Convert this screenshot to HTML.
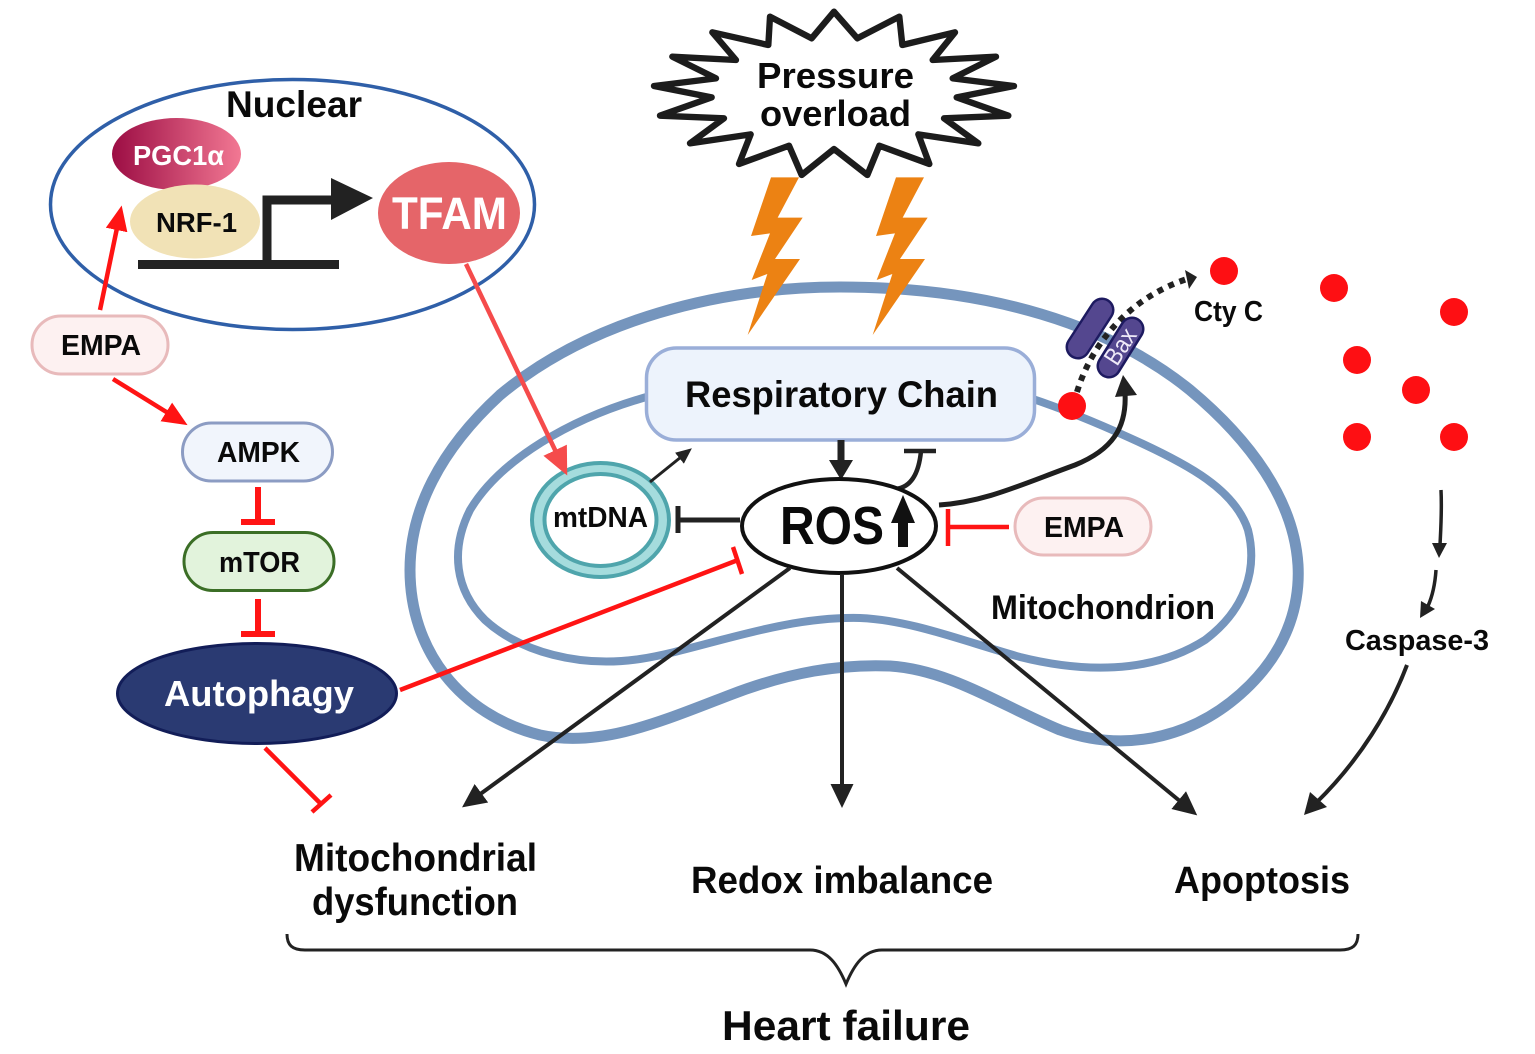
<!DOCTYPE html>
<html><head><meta charset="utf-8"><title>Heart failure diagram</title>
<style>
html,body{margin:0;padding:0;background:#fff}
svg{display:block}
text{font-family:"Liberation Sans",sans-serif;font-weight:700;fill:#0a0a0a}
</style></head><body>
<svg width="1535" height="1054" viewBox="0 0 1535 1054" xmlns="http://www.w3.org/2000/svg">
<defs>
<linearGradient id="pg" x1="0" x2="1" y1="0" y2="0"><stop offset="0" stop-color="#9c0d44"/><stop offset="1" stop-color="#f27893"/></linearGradient>
<marker id="bh" markerUnits="userSpaceOnUse" markerWidth="30" markerHeight="30" refX="3" refY="15" orient="auto"><path d="M0 3.500L24 15L0 26.500Z" fill="#222"/></marker>
<marker id="sh" markerUnits="userSpaceOnUse" markerWidth="20" markerHeight="20" refX="2" refY="10" orient="auto"><path d="M0 3L16 10L0 17Z" fill="#222"/></marker>
<marker id="rh" markerUnits="userSpaceOnUse" markerWidth="34" markerHeight="34" refX="2" refY="17" orient="auto"><path d="M0 6L25 17L0 28Z" fill="#ff1414"/></marker>
<marker id="th" markerUnits="userSpaceOnUse" markerWidth="34" markerHeight="34" refX="2" refY="17" orient="auto"><path d="M0 4L28 17L0 30Z" fill="#f54b4b"/></marker>
</defs>

<!-- mitochondrion membranes -->
<path d="M840 287C720 287 590 320 500 395C440 450 410 510 410 570C410 650 460 715 540 735C600 748 660 722 730 695C790 672 840 664 890 666C950 670 1000 705 1060 730C1130 755 1200 735 1250 685C1290 645 1300 600 1298 565C1294 500 1250 440 1190 390C1110 325 990 287 840 287Z" fill="none" stroke="#7595bd" stroke-width="11"/>
<path d="M650 396C570 418 500 460 470 510C450 550 455 590 485 620C520 652 580 668 640 659C700 650 780 616 860 618C910 620 960 640 1020 657C1080 672 1150 675 1205 640C1245 610 1258 570 1248 530C1235 490 1190 465 1130 438C1095 422 1060 408 1030 398" fill="none" stroke="#7595bd" stroke-width="8"/>

<!-- nuclear -->
<ellipse cx="292.500" cy="204.500" rx="242" ry="125" fill="#fff" stroke="#2f5fa8" stroke-width="3.500"/>
<ellipse cx="176.500" cy="154" rx="64.500" ry="36" fill="url(#pg)"/>
<ellipse cx="195" cy="221.500" rx="65" ry="37" fill="#f1e2b6"/>
<path d="M138 264.500H339M267 264V200H332" fill="none" stroke="#222" stroke-width="9"/>
<path d="M331 178L373 198L331 220Z" fill="#222"/>
<ellipse cx="449" cy="213" rx="71" ry="51" fill="#e56569"/>

<!-- EMPA arrows and lines -->
<line x1="100" y1="310" x2="117" y2="228" stroke="#ff1414" stroke-width="4.500" marker-end="url(#rh)"/>
<line x1="113" y1="379" x2="168" y2="413" stroke="#ff1414" stroke-width="4.500" marker-end="url(#rh)"/>
<rect x="32" y="316" width="136" height="58" rx="29" fill="#fdf1f1" stroke="#e8babb" stroke-width="3"/>
<rect x="182.500" y="423" width="150" height="58" rx="29" fill="#f1f5fc" stroke="#8c9cc3" stroke-width="3"/>
<rect x="184" y="532.500" width="150" height="58" rx="29" fill="#e2f3dc" stroke="#3b6e26" stroke-width="3"/>
<ellipse cx="257" cy="693.500" rx="139.500" ry="50" fill="#2a3a72" stroke="#121d58" stroke-width="3"/>

<path d="M258 487V522M241 522H275M258 599V634M241 634H275" fill="none" stroke="#ff1414" stroke-width="6"/>
<path d="M400 690L738 560M733 547L742 574" fill="none" stroke="#ff1414" stroke-width="4.500"/>
<path d="M265 748L321 804M312 812L331 795" fill="none" stroke="#ff1414" stroke-width="4.500"/>
<path d="M1009 527H948M948 509V546" fill="none" stroke="#ff1414" stroke-width="4.500"/>

<!-- burst + bolts -->
<g transform="translate(640 0) scale(.33333)">
<path d="M582 35L652 115L778 50L787 135L945 97L878 180L1068 170L938 235L1122 258L950 292L1105 347L912 355L1015 430L835 403L868 492L718 437L682 525L582 447L485 525L447 437L297 492L332 403L150 430L252 355L60 347L215 292L42 258L228 235L97 170L288 180L217 97L385 135L390 50L515 115Z" fill="#fff" stroke="#1c1c1c" stroke-width="19" stroke-linejoin="round"/>
<path d="M393 532H477L413 653H488L405 777H480L323 1005L382 822L335 840L390 700L333 708Z" fill="#ec8213"/>
<path d="M768 532H852L788 653H863L780 777H855L698 1005L757 822L710 840L765 700L708 708Z" fill="#ec8213"/>
</g>

<!-- respiratory chain -->
<rect x="646.500" y="348" width="388" height="92" rx="30" fill="#edf3fc" stroke="#9aaed8" stroke-width="3.500"/>

<!-- mtDNA -->
<ellipse cx="600.500" cy="520" rx="68.500" ry="57" fill="#a5dcdd" stroke="#4fa5ac" stroke-width="4"/>
<ellipse cx="600.500" cy="520" rx="56" ry="46" fill="#fff" stroke="#4fa5ac" stroke-width="4"/>
<line x1="466" y1="264" x2="556" y2="452" stroke="#f54b4b" stroke-width="4.500" marker-end="url(#th)"/>

<!-- dark connectors -->
<line x1="650" y1="482" x2="681" y2="457" stroke="#222" stroke-width="3" marker-end="url(#sh)"/>
<path d="M841 440V462" stroke="#222" stroke-width="7" fill="none"/>
<path d="M829 460H853L841 480Z" fill="#222"/>
<path d="M896 489C912 487 919 472 921 451M904 451H936" fill="none" stroke="#222" stroke-width="4.500"/>
<path d="M740 520H678M678 506V533" fill="none" stroke="#222" stroke-width="5"/>
<path d="M939 505C985 502 1020 485 1075 465C1112 450 1127 428 1125 393" fill="none" stroke="#1f1f1f" stroke-width="5"/>
<path d="M1115 397L1123 375L1137 395Z" fill="#222"/>

<ellipse cx="839" cy="526" rx="97" ry="47" fill="#fff" stroke="#111" stroke-width="4"/>
<path d="M903 547V520" stroke="#111" stroke-width="10" fill="none"/>
<path d="M891 523L903 495L915 523Z" fill="#111"/>

<line x1="790" y1="568" x2="479" y2="795" stroke="#222" stroke-width="4" marker-end="url(#bh)"/>
<line x1="842" y1="574" x2="842" y2="787" stroke="#222" stroke-width="4" marker-end="url(#bh)"/>
<line x1="897" y1="568" x2="1181" y2="802" stroke="#222" stroke-width="4" marker-end="url(#bh)"/>

<rect x="1015" y="498" width="136" height="57" rx="28.500" fill="#fdf1f1" stroke="#e8babb" stroke-width="3"/>

<!-- Bax -->
<line x1="1102" y1="310" x2="1078" y2="347" stroke="#1d1a60" stroke-width="25" stroke-linecap="round"/>
<line x1="1102" y1="310" x2="1078" y2="347" stroke="#54478f" stroke-width="20" stroke-linecap="round"/>
<path d="M1077 392C1088 355 1120 300 1190 278" fill="none" stroke="#222" stroke-width="6" stroke-dasharray="6 6"/>
<path d="M1185 270L1197 277L1189 289Z" fill="#222"/>
<line x1="1132" y1="329" x2="1109" y2="366" stroke="#1d1a60" stroke-width="25" stroke-linecap="round"/>
<line x1="1132" y1="329" x2="1109" y2="366" stroke="#54478f" stroke-width="20" stroke-linecap="round"/>

<!-- dots -->
<g fill="#fe0f13">
<circle cx="1072" cy="406" r="14"/><circle cx="1224" cy="271" r="14"/><circle cx="1334" cy="288" r="14"/>
<circle cx="1454" cy="312" r="14"/><circle cx="1357" cy="360" r="14"/><circle cx="1416" cy="390" r="14"/>
<circle cx="1357" cy="437" r="14"/><circle cx="1454" cy="437" r="14"/>
</g>

<!-- caspase arrows -->
<path d="M1441 490C1442 510 1441 525 1440 545" fill="none" stroke="#222" stroke-width="3.500"/>
<path d="M1432 543H1447L1439 558Z" fill="#222"/>
<path d="M1436 570C1435 585 1432 597 1428 606" fill="none" stroke="#222" stroke-width="3.500"/>
<path d="M1421 601L1435 609L1420 618Z" fill="#222"/>
<path d="M1407 665C1390 710 1360 760 1316 803" fill="none" stroke="#222" stroke-width="4"/>
<path d="M1310 792L1327 807L1304 815Z" fill="#222"/>

<!-- brace -->
<path d="M287 934C287 945 292 950 305 950H810C828 950 838 965 846 984C854 965 864 950 882 950H1340C1353 950 1358 945 1358 934" fill="none" stroke="#222" stroke-width="3"/>

<!-- labels -->
<text x="226" y="117" font-size="37" textLength="136" lengthAdjust="spacingAndGlyphs">Nuclear</text>
<text x="133" y="165" font-size="28" textLength="91" lengthAdjust="spacingAndGlyphs" style="fill:#fff">PGC1α</text>
<text x="156" y="232" font-size="28" textLength="81" lengthAdjust="spacingAndGlyphs">NRF-1</text>
<text x="392" y="229" font-size="45" textLength="115" lengthAdjust="spacingAndGlyphs" style="fill:#fff">TFAM</text>
<text x="61" y="355" font-size="29" textLength="80" lengthAdjust="spacingAndGlyphs">EMPA</text>
<text x="217" y="462" font-size="29" textLength="83" lengthAdjust="spacingAndGlyphs">AMPK</text>
<text x="219" y="572" font-size="29" textLength="81" lengthAdjust="spacingAndGlyphs">mTOR</text>
<text x="164" y="706" font-size="36" textLength="190" lengthAdjust="spacingAndGlyphs" style="fill:#fff">Autophagy</text>
<text x="757" y="88" font-size="36" textLength="157" lengthAdjust="spacingAndGlyphs">Pressure</text>
<text x="760" y="126" font-size="36" textLength="151" lengthAdjust="spacingAndGlyphs">overload</text>
<text x="685" y="407" font-size="37" textLength="313" lengthAdjust="spacingAndGlyphs">Respiratory Chain</text>
<text x="553" y="527" font-size="29" textLength="95" lengthAdjust="spacingAndGlyphs">mtDNA</text>
<text x="780" y="544" font-size="54" textLength="104" lengthAdjust="spacingAndGlyphs">ROS</text>
<text x="1044" y="537" font-size="29" textLength="80" lengthAdjust="spacingAndGlyphs">EMPA</text>
<text x="991" y="619" font-size="34" textLength="224" lengthAdjust="spacingAndGlyphs">Mitochondrion</text>
<text x="1194" y="321" font-size="29" textLength="69" lengthAdjust="spacingAndGlyphs">Cty C</text>
<text x="1345" y="650" font-size="29" textLength="144" lengthAdjust="spacingAndGlyphs">Caspase-3</text>
<text x="294" y="871" font-size="39" textLength="243" lengthAdjust="spacingAndGlyphs">Mitochondrial</text>
<text x="312" y="915" font-size="39" textLength="206" lengthAdjust="spacingAndGlyphs">dysfunction</text>
<text x="691" y="893" font-size="38" textLength="302" lengthAdjust="spacingAndGlyphs">Redox imbalance</text>
<text x="1174" y="893" font-size="38" textLength="176" lengthAdjust="spacingAndGlyphs">Apoptosis</text>
<text x="722" y="1040" font-size="42" textLength="248" lengthAdjust="spacingAndGlyphs">Heart failure</text>
<text transform="translate(1117 367) rotate(-57)" font-size="25" textLength="38" lengthAdjust="spacingAndGlyphs" style="fill:#efeaf8;font-weight:400">Bax</text>
</svg>
</body></html>
